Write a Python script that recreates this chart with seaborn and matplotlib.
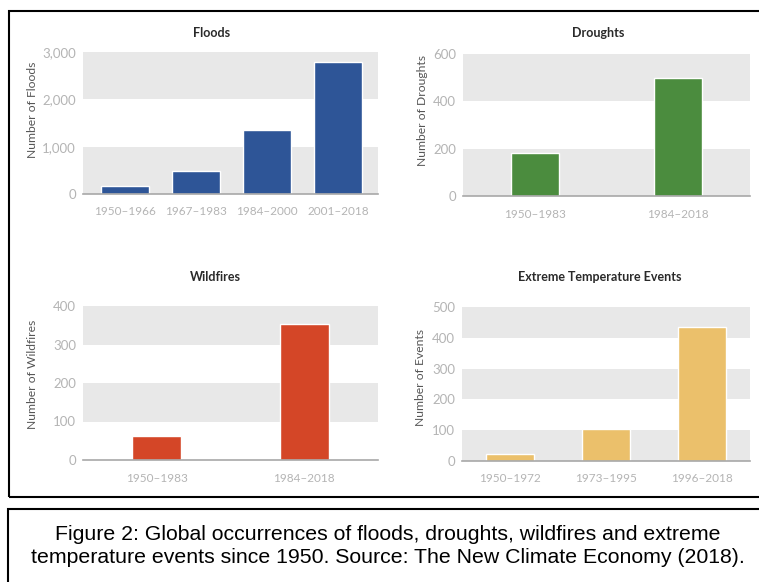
import matplotlib
matplotlib.use("Agg")
import matplotlib.pyplot as plt
import seaborn as sns
from matplotlib.patches import Rectangle
from matplotlib.ticker import FuncFormatter

# data
flood_periods = ["1950–1966", "1967–1983", "1984–2000", "2001–2018"]
flood_counts = [165, 480, 1350, 2790]
flood_ticks = [0, 1000, 2000, 3000]

drought_periods = ["1950–1983", "1984–2018"]
drought_counts = [181, 498]
drought_ticks = [0, 200, 400, 600]

wildfire_periods = ["1950–1983", "1984–2018"]
wildfire_counts = [62, 352]
wildfire_ticks = [0, 100, 200, 300, 400]

temp_periods = ["1950–1972", "1973–1995", "1996–2018"]
temp_counts = [22, 105, 435]
temp_ticks = [0, 100, 200, 300, 400, 500]

caption = ("Figure 2: Global occurrences of floods, droughts, wildfires and extreme\n"
           "temperature events since 1950. Source: The New Climate Economy (2018).")

W, H = 759, 582

sns.set_theme(style="white")
plt.rcParams['font.family'] = ['Lato', 'DejaVu Sans']

fig = plt.figure(figsize=(W / 100, H / 100), dpi=100)


def px_axes(x0, y0, x1, y1):
    # pixel box (top-left origin) -> figure axes
    return fig.add_axes([x0 / W, 1 - y1 / H, (x1 - x0) / W, (y1 - y0) / H])


def panel(box, periods, counts, ticks, color, width, title, title_xy, ylabel, ylabel_xy, xlim=None):
    ax = px_axes(*box)
    # alternating grey bands, grey on top
    n = len(ticks) - 1
    for i in range(n):
        if (n - 1 - i) % 2 == 0:
            ax.axhspan(ticks[i], ticks[i + 1], color="#e8e8e8", lw=0, zorder=0)
    sns.barplot(x=periods, y=counts, color=color, saturation=1, width=width, ax=ax, zorder=3)
    ax.set_ylim(ticks[0], ticks[-1])
    ax.set_yticks(ticks)
    ax.yaxis.set_major_formatter(FuncFormatter(lambda v, p: f"{v:,.0f}"))
    if xlim is not None:
        ax.set_xlim(*xlim)
    for s in ["top", "right", "left"]:
        ax.spines[s].set_visible(False)
    ax.spines["bottom"].set_color("#a8a8a8")
    ax.spines["bottom"].set_linewidth(1.2)
    ax.spines["bottom"].set_zorder(4)
    ax.tick_params(axis="both", length=0, labelcolor="#b4b4b4")
    ax.tick_params(axis="x", pad=9, labelsize=8.5)
    ax.tick_params(axis="y", pad=5, labelsize=9.5)
    ax.set_xlabel("")
    ax.set_ylabel("")
    ax.set_facecolor("none")
    fig.text(title_xy[0] / W, 1 - title_xy[1] / H, title, ha="center", va="center",
             fontsize=9, fontweight="bold", color="#2a2a2a")
    fig.text(ylabel_xy[0] / W, 1 - ylabel_xy[1] / H, ylabel, ha="center", va="center",
             rotation=90, fontsize=8.7, color="#555555")
    return ax


panel((83, 52, 378, 194), flood_periods, flood_counts, flood_ticks, "#2e5597", 0.68,
      "Floods", (212, 33), "Number of Floods", (32, 110), xlim=(-0.59, 3.56))
panel((463, 54, 750, 196), drought_periods, drought_counts, drought_ticks, "#4b8c3e", 0.335,
      "Droughts", (598, 33), "Number of Droughts", (422, 110))
panel((83, 306, 378, 460), wildfire_periods, wildfire_counts, wildfire_ticks, "#d44627", 0.33,
      "Wildfires", (215, 277), "Number of Wildfires", (32, 374))
panel((462, 307, 750, 461), temp_periods, temp_counts, temp_ticks, "#ebc06b", 0.5,
      "Extreme Temperature Events", (600, 277), "Number of Events", (420, 378))

# outer frames
fig.add_artist(Rectangle((9 / W, 1 - 497 / H), (770 - 9) / W, (497 - 11) / H,
                         transform=fig.transFigure, fill=False, ec="black", lw=1.5))
fig.add_artist(Rectangle((8 / W, 1 - 600 / H), (770 - 8) / W, (600 - 509) / H,
                         transform=fig.transFigure, fill=False, ec="black", lw=1.5))

fig.text(388 / W, 1 - 546 / H, caption, ha="center", va="center",
         fontsize=15.3, family=["Liberation Sans", "DejaVu Sans"], color="black",
         linespacing=1.22)

plt.savefig("out.png", dpi=100)
